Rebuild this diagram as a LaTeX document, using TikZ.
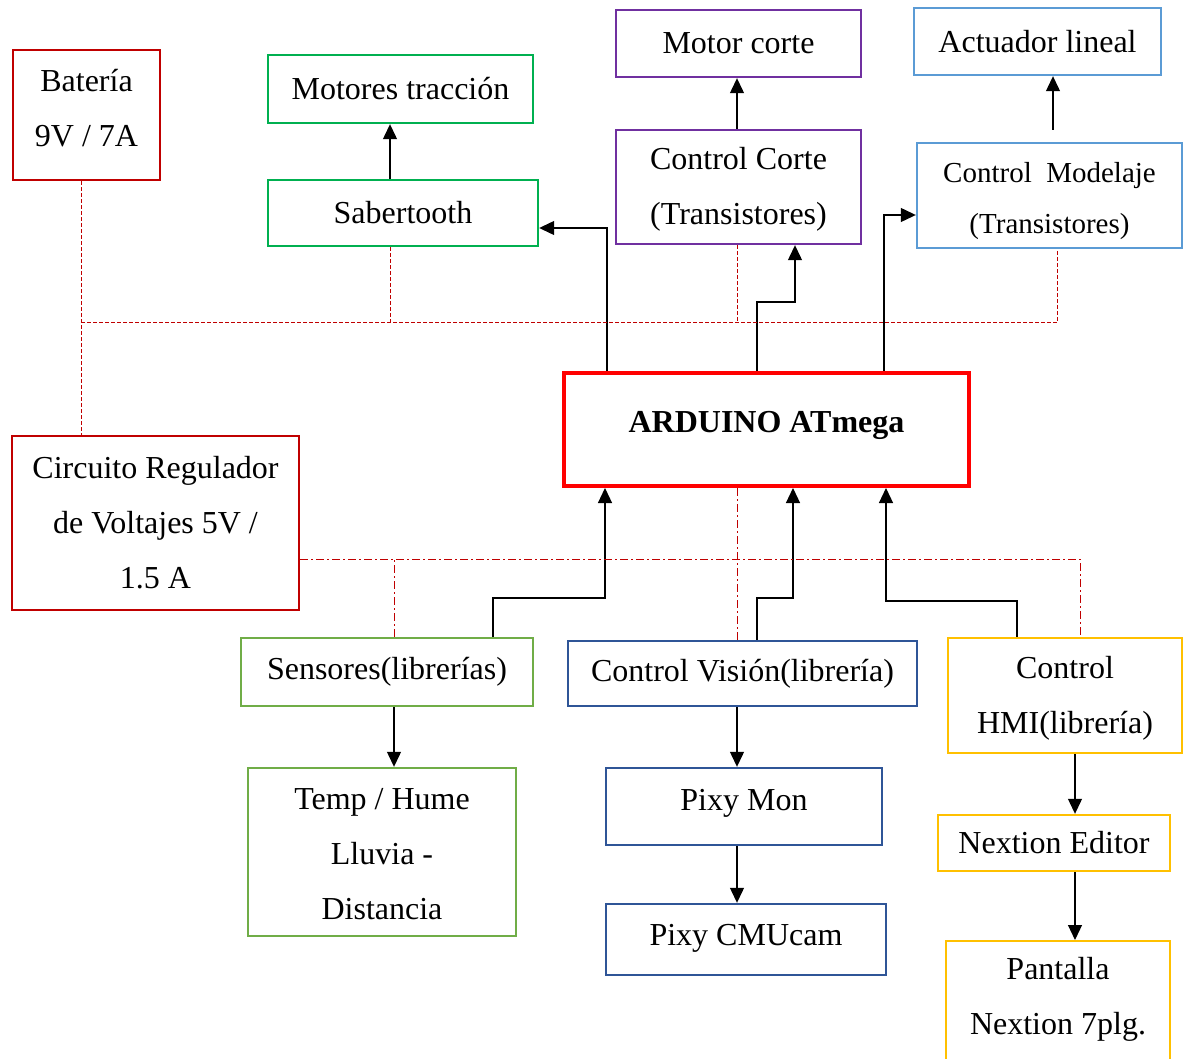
\documentclass[tikz,border=0pt]{standalone}
\usepackage{fontspec}
\setmainfont{Liberation Serif}
\usetikzlibrary{positioning,arrows.meta,calc}
\definecolor{batred}{HTML}{C00000}
\definecolor{ardred}{HTML}{FF0000}
\definecolor{tracgreen}{HTML}{00B050}
\definecolor{cortepurple}{HTML}{7030A0}
\definecolor{modblue}{HTML}{5B9BD5}
\definecolor{sensgreen}{HTML}{70AD47}
\definecolor{visblue}{HTML}{2F5597}
\definecolor{hmiyellow}{HTML}{FFC000}

\begin{document}
\begin{tikzpicture}[x=0.5pt,y=-0.5pt,>={Triangle[length=7.5pt,width=7pt]},
  blk/.style={draw=#1,line width=1.2pt,align=center,inner sep=0pt,font=\fontsize{16}{27.5}\selectfont},
  arr/.style={->,line width=0.6pt},
  pwr/.style={batred,line width=0.5pt,dash pattern=on 2pt off 1pt},
  sig/.style={batred,line width=0.5pt,dash pattern=on 4pt off 1.5pt on 1pt off 1.5pt}]
\useasboundingbox (0,0) rectangle (1184,1059);
\clip (0,0) rectangle (1184,1059);

% bloques de potencia y salidas
\node[blk=batred,minimum width=73.5pt,minimum height=65pt] (bat) at (86.5,115) {Batería\\9V / 7A\rule[-7pt]{0pt}{0pt}};
\node[blk=tracgreen,minimum width=132.5pt,minimum height=34pt] (motrac) at (400.5,89) {Motores tracción};
\node[blk=tracgreen,minimum width=135pt,minimum height=33pt] (saber) at (403,213) {Sabertooth};
\node[blk=cortepurple,minimum width=122.5pt,minimum height=33.5pt] (mcorte) at (738.5,43.5) {Motor corte};
\node[blk=cortepurple,minimum width=122.5pt,minimum height=57pt] (ccorte) at (738.5,187) {\rule{0pt}{13pt}Control Corte\\(Transistores)};
\node[blk=modblue,minimum width=123.5pt,minimum height=33.5pt] (act) at (1037.5,41.5) {Actuador lineal};
\node[blk=modblue,minimum width=132.5pt,minimum height=52.5pt,font=\fontsize{14.5}{25.5}\selectfont] (cmod) at (1049.5,195.5) {\rule{0pt}{16pt}Control\ \ Modelaje\\(Transistores)};
\node[blk=ardred,line width=2pt,minimum width=202.5pt,minimum height=56.5pt,font=\fontsize{16}{27.5}\selectfont\bfseries,text height=11pt,text depth=8pt] (ard) at (766.5,429.5) {ARDUINO ATmega};
\node[blk=batred,minimum width=143.5pt,minimum height=87pt] (reg) at (155.5,523) {Circuito Regulador\\de Voltajes 5V /\\1.5 A};

% entradas
\node[blk=sensgreen,minimum width=146pt,minimum height=34pt] (sens) at (387,672) {Sensores(librerías)};
\node[blk=sensgreen,minimum width=134pt,minimum height=84pt] (temp) at (382,852) {\rule{0pt}{13pt}Temp / Hume\\Lluvia -\\Distancia};
\node[blk=visblue,minimum width=174.5pt,minimum height=32.5pt] (vis) at (742.5,673.5) {Control Visión(librería)};
\node[blk=visblue,minimum width=138pt,minimum height=38.5pt,text height=11pt,text depth=7pt] (pmon) at (744,806.5) {Pixy Mon};
\node[blk=visblue,minimum width=140pt,minimum height=35.5pt,text height=11pt,text depth=5pt] (pcmu) at (746,939.5) {Pixy CMUcam};
\node[blk=hmiyellow,minimum width=117pt,minimum height=57.5pt] (hmi) at (1065,695.5) {\rule{0pt}{14pt}Control\\HMI(librería)};
\node[blk=hmiyellow,minimum width=116pt,minimum height=28pt] (nxed) at (1054,843) {Nextion Editor};
\node[blk=hmiyellow,minimum width=112pt,minimum height=70pt,anchor=north] (pant) at (1058,940) {};
\node[align=center,font=\fontsize{16}{27.5}\selectfont] (panttxt) at (1058,999) {Pantalla\\Nextion 7plg.};

% columnas de las flechas rectas
\coordinate (c1) at (390,0);
\coordinate (c2) at (737,0);
\coordinate (c4) at (394,0);
\coordinate (c5) at (1075,0);
\coordinate (m0) at (1053,130);

\draw[arr] (saber.north -| c1) -- (motrac.south -| c1);
\draw[arr] (ccorte.north -| c2) -- (mcorte.south -| c2);
\draw[arr] (m0) -- (m0 |- act.south);
\draw[arr] (sens.south -| c4) -- (temp.north -| c4);
\draw[arr] (vis.south -| c2) -- (pmon.north -| c2);
\draw[arr] (pmon.south -| c2) -- (pcmu.north -| c2);
\draw[arr] (hmi.south -| c5) -- (nxed.north -| c5);
\draw[arr] (nxed.south -| c5) -- (pant.north -| c5);

% salidas del arduino
\coordinate (k1) at (607,228);
\draw[arr] (k1 |- ard.north) -- (k1) -- (k1 -| saber.east);
\coordinate (k2) at (757,302);
\coordinate (k3) at (795,302);
\draw[arr] (k2 |- ard.north) -- (k2) -- (k3) -- (k3 |- ccorte.south);
\coordinate (k4) at (884,215);
\draw[arr] (k4 |- ard.north) -- (k4) -- (k4 -| cmod.west);

% entradas al arduino
\coordinate (k5) at (493,598);
\coordinate (k6) at (605,598);
\draw[arr] (k5 |- sens.north) -- (k5) -- (k6) -- (k6 |- ard.south);
\coordinate (k7) at (757,598);
\coordinate (k8) at (793,598);
\draw[arr] (k7 |- vis.north) -- (k7) -- (k8) -- (k8 |- ard.south);
\coordinate (k9) at (1017,601);
\coordinate (k10) at (886,601);
\draw[arr] (k9 |- hmi.north) -- (k9) -- (k10) -- (k10 |- ard.south);

% bus 9V
\coordinate (t1) at (81,323);
\coordinate (t2) at (1057,323);
\draw[pwr] (bat.south -| t1) -- (reg.north -| t1);
\draw[pwr] (t1) -- (t2) -- (t2 |- cmod.south);
\draw[pwr] (saber.south -| c1) -- (c1 |- t1);
\draw[pwr] (ccorte.south -| c2) -- (c2 |- t1);

% bus 5V
\coordinate (d1) at (1080,559);
\draw[sig] (reg.east |- d1) -- (d1) -- (d1 |- hmi.north);
\draw[sig] (sens.north -| c4) -- (c4 |- d1);
\draw[sig] (ard.south -| c2) -- (vis.north -| c2);
\end{tikzpicture}
\end{document}
